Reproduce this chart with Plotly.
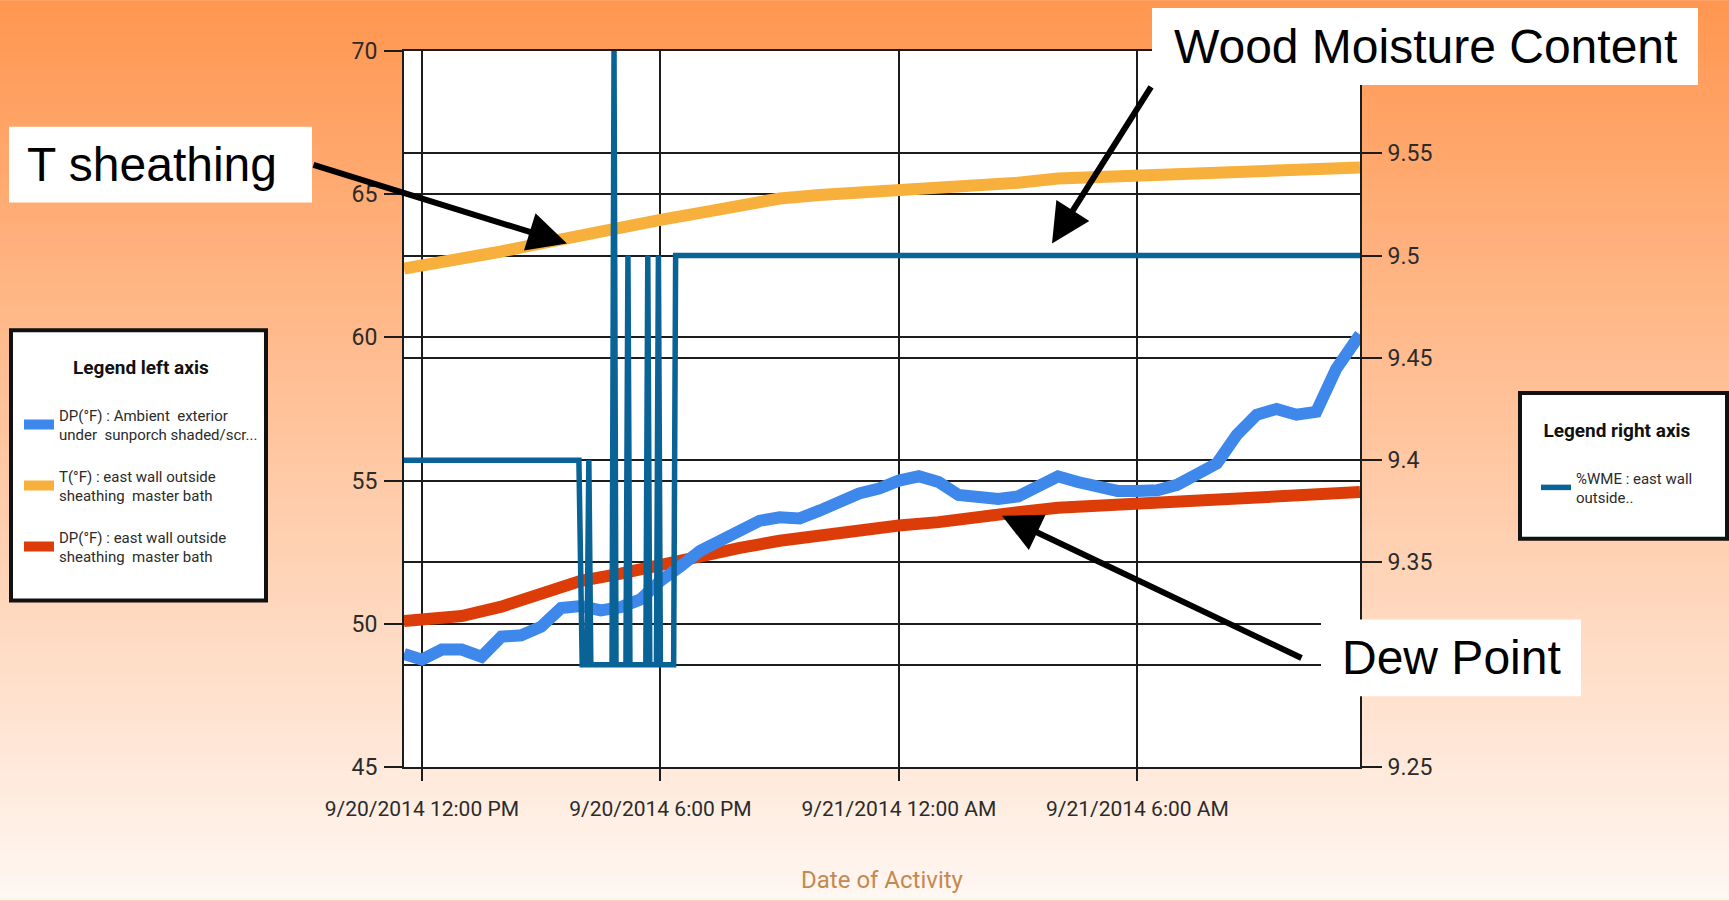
import plotly.graph_objects as go

# ---------------- data ----------------
HOURLY_TIMES = [
    "2014-09-20 11:33", "2014-09-20 12:00", "2014-09-20 13:00", "2014-09-20 14:00",
    "2014-09-20 15:00", "2014-09-20 16:00", "2014-09-20 17:00", "2014-09-20 18:00",
    "2014-09-20 19:00", "2014-09-20 20:00", "2014-09-20 21:00", "2014-09-20 22:00",
    "2014-09-20 23:00", "2014-09-21 00:00", "2014-09-21 01:00", "2014-09-21 02:00",
    "2014-09-21 03:00", "2014-09-21 04:00", "2014-09-21 05:00", "2014-09-21 06:00",
    "2014-09-21 07:00", "2014-09-21 08:00", "2014-09-21 09:00", "2014-09-21 10:00",
    "2014-09-21 11:00", "2014-09-21 11:36",
]
T_SHEATHING = [62.40, 62.50, 62.74, 63.00, 63.28, 63.58, 63.88, 64.10, 64.35, 64.60,
               64.85, 64.97, 65.05, 65.08, 65.15, 65.30, 65.40, 65.55, 65.60, 65.66,
               65.70, 65.74, 65.82, 65.87, 65.90, 65.93]
DP_SHEATHING = [50.10, 50.15, 50.27, 50.60, 51.05, 51.50, 51.75, 52.08, 52.40, 52.65,
                52.90, 53.10, 53.25, 53.43, 53.55, 53.76, 53.90, 54.05, 54.12, 54.15,
                54.22, 54.30, 54.37, 54.45, 54.53, 54.60]

HALF_HOUR_TIMES = [
    "2014-09-20 11:33",
    "2014-09-20 12:00", "2014-09-20 12:30", "2014-09-20 13:00", "2014-09-20 13:30",
    "2014-09-20 14:00", "2014-09-20 14:30", "2014-09-20 15:00", "2014-09-20 15:30",
    "2014-09-20 16:00", "2014-09-20 16:30", "2014-09-20 17:00", "2014-09-20 17:30",
    "2014-09-20 18:00", "2014-09-20 18:30", "2014-09-20 19:00", "2014-09-20 19:30",
    "2014-09-20 20:00", "2014-09-20 20:30", "2014-09-20 21:00", "2014-09-20 21:30",
    "2014-09-20 22:00", "2014-09-20 22:30", "2014-09-20 23:00", "2014-09-20 23:30",
    "2014-09-21 00:00", "2014-09-21 00:30", "2014-09-21 01:00", "2014-09-21 01:30",
    "2014-09-21 02:00", "2014-09-21 02:30", "2014-09-21 03:00", "2014-09-21 03:30",
    "2014-09-21 04:00", "2014-09-21 04:30", "2014-09-21 05:00", "2014-09-21 05:30",
    "2014-09-21 06:00", "2014-09-21 06:30", "2014-09-21 07:00", "2014-09-21 07:30",
    "2014-09-21 08:00", "2014-09-21 08:30", "2014-09-21 09:00", "2014-09-21 09:30",
    "2014-09-21 10:00", "2014-09-21 10:30", "2014-09-21 11:00", "2014-09-21 11:30",
    "2014-09-21 11:36",
]
DP_AMBIENT = [48.95,
              48.75, 49.10, 49.10, 48.85, 49.55, 49.60, 49.90, 50.55,
              50.62, 50.47, 50.58, 50.85, 51.50, 52.00, 52.55, 52.90,
              53.30, 53.60, 53.72, 53.68, 53.95, 54.30, 54.55, 54.72,
              55.00, 55.15, 54.95, 54.50, 54.38, 54.36, 54.45, 54.85,
              55.15, 54.95, 54.75, 54.64, 54.64, 54.66, 54.85, 55.17,
              55.60, 56.60, 57.30, 57.50, 57.30, 57.40, 58.90, 59.90,
              60.10]

WME_TIMES = ["2014-09-20 11:33", "2014-09-20 15:57", "2014-09-20 16:02", "2014-09-20 16:09",
             "2014-09-20 16:12", "2014-09-20 16:15", "2014-09-20 16:47", "2014-09-20 16:50",
             "2014-09-20 16:53", "2014-09-20 17:08", "2014-09-20 17:11", "2014-09-20 17:14",
             "2014-09-20 17:38", "2014-09-20 17:41", "2014-09-20 17:44", "2014-09-20 17:54",
             "2014-09-20 17:57", "2014-09-20 18:00", "2014-09-20 18:20", "2014-09-20 18:23",
             "2014-09-21 11:36"]
WME_VALUES = [9.40, 9.40, 9.30, 9.30, 9.40, 9.30, 9.30, 9.60, 9.30, 9.30, 9.50, 9.30,
              9.30, 9.50, 9.30, 9.30, 9.50, 9.30, 9.30, 9.50, 9.50]

X_RANGE = ["2014-09-20 11:33", "2014-09-21 11:36"]
X_TICKS = ["2014-09-20 12:00", "2014-09-20 18:00", "2014-09-21 00:00", "2014-09-21 06:00"]
X_TICK_TEXT = ["9/20/2014 12:00 PM", "9/20/2014 6:00 PM", "9/21/2014 12:00 AM", "9/21/2014 6:00 AM"]
Y_LEFT_TICKS = [45, 50, 55, 60, 65, 70]
Y_RIGHT_TICKS = [9.25, 9.30, 9.35, 9.40, 9.45, 9.50, 9.55]
Y_RIGHT_TEXT = ["9.25", "", "9.35", "9.4", "9.45", "9.5", "9.55"]  # 9.3 is hidden by the callout

# ---------------- layout constants ----------------
FIG_W, FIG_H = 1729, 901
ML, MR, MT, MB = 404, 369, 51, 132
PW = FIG_W - ML - MR
PH = FIG_H - MT - MB
NARROW = "Roboto, Liberation Sans, sans-serif"
ARIAL = "Liberation Sans, Arial, sans-serif"


def px(X, Y):
    return (X - ML) / PW, (FIG_H - MB - Y) / PH


fig = go.Figure()

fig.add_trace(go.Scatter(
    x=HOURLY_TIMES, y=DP_SHEATHING, mode="lines",
    name="DP(°F) : east wall outside<br>sheathing  master bath",
    line=dict(color="#DC3D08", width=12), legend="legend", legendrank=3,
    legendgroup="c"))
fig.add_trace(go.Scatter(
    x=HOURLY_TIMES, y=T_SHEATHING, mode="lines",
    name="T(°F) : east wall outside<br>sheathing  master bath",
    line=dict(color="#F8B03C", width=12), legend="legend", legendrank=2,
    legendgroup="b"))
fig.add_trace(go.Scatter(
    x=HALF_HOUR_TIMES, y=DP_AMBIENT, mode="lines",
    name="DP(°F) : Ambient  exterior<br>under  sunporch shaded/scr...",
    line=dict(color="#3E88EC", width=12), legend="legend", legendrank=1,
    legendgroup="a"))
fig.add_trace(go.Scatter(
    x=WME_TIMES, y=WME_VALUES, mode="lines", yaxis="y2",
    name="%WME : east wall<br>outside..",
    line=dict(color="#0A6396", width=5.5), legend="legend2", legendgroup="d"))

# ---------------- background gradient ----------------
shapes = []
N = 120
top_c = (255, 150, 80)
bot_c = (255, 247, 242)
for i in range(N):
    f = (i + 0.5) / N
    c = tuple(round(top_c[k] + (bot_c[k] - top_c[k]) * f) for k in range(3))
    Y0 = i * FIG_H / N
    Y1 = (i + 1) * FIG_H / N + 1.5
    x0, y0 = px(-2, Y1)
    x1, y1 = px(FIG_W + 2, Y0)
    shapes.append(dict(type="rect", xref="paper", yref="paper", x0=x0, x1=x1, y0=y0, y1=y1,
                       fillcolor="rgb(%d,%d,%d)" % c, line=dict(width=0), layer="below"))
shapes.append(dict(type="rect", xref="paper", yref="paper", x0=0, x1=1, y0=0, y1=1,
                   fillcolor="white", line=dict(width=0), layer="below"))


def rect(X0, Y0, X1, Y1, layer, border):
    a0, b1 = px(X0, Y0)
    a1, b0 = px(X1, Y1)
    return dict(type="rect", xref="paper", yref="paper", x0=a0, x1=a1, y0=b0, y1=b1,
                fillcolor="white", layer=layer,
                line=dict(color="#111111", width=border) if border else dict(width=0))


# legend boxes
shapes.append(rect(11, 331, 266, 602, "below", 4))
shapes.append(rect(1520, 394, 1727, 540, "below", 4))
# callout boxes
shapes.append(rect(9, 127, 312, 203, "above", 0))
shapes.append(rect(1152, 8, 1698, 85, "above", 0))
shapes.append(rect(1321, 621, 1581, 698, "above", 0))

# ---------------- callout texts and arrows ----------------
annotations = []
for text, X, Y, anchor in [("T sheathing", 27, 165, "left"),
                           ("Wood Moisture Content", 1425, 46, "center"),
                           ("Dew Point", 1451, 659, "center")]:
    cx, cy = px(X, Y)
    annotations.append(dict(text=text, xref="paper", yref="paper", x=cx, y=cy,
                            xanchor=anchor, yanchor="middle", showarrow=False,
                            borderpad=0, borderwidth=0,
                            font=dict(family=ARIAL, size=48, color="black")))

for (HX, HY, TX, TY) in [(567, 244, 312, 165), (1052, 244, 1152, 86), (1002, 517, 1303, 660)]:
    hx, hy = px(HX, HY)
    annotations.append(dict(text="", xref="paper", yref="paper", x=hx, y=hy,
                            ax=TX - HX, ay=TY - HY, showarrow=True, arrowhead=2,
                            arrowsize=1.3, arrowwidth=6, arrowcolor="black", standoff=0))

lx, ly = px(19, 350)
rx, ry = px(1536, 413)

grid = "#1c1c1c"
tickc = "#2b2b2b"
fig.update_layout(
    width=FIG_W, height=FIG_H,
    margin=dict(l=ML, r=MR, t=MT, b=MB, pad=0),
    paper_bgcolor="rgb(255,200,160)", plot_bgcolor="white",
    shapes=shapes, annotations=annotations,
    xaxis=dict(type="date", range=X_RANGE, tickvals=X_TICKS, ticktext=X_TICK_TEXT,
               showgrid=True, gridcolor=grid, gridwidth=1.5, zeroline=False,
               showline=True, linecolor=grid, linewidth=2, mirror=True,
               ticks="outside", ticklen=12, tickwidth=1.5, tickcolor=grid,
               tickfont=dict(family=NARROW, size=21, color=tickc),
               ticklabelstandoff=10,
               title=dict(text="Date of Activity", standoff=51,
                          font=dict(family=NARROW, size=24, color="#C5894F"))),
    yaxis=dict(range=[45, 70], tickvals=Y_LEFT_TICKS, showgrid=True, gridcolor=grid,
               gridwidth=2, zeroline=False, showline=True, linecolor=grid, linewidth=2,
               ticks="outside", ticklen=18, tickwidth=1.5, tickcolor=grid,
               tickfont=dict(family=NARROW, size=23, color=tickc), ticklabelstandoff=2),
    yaxis2=dict(range=[9.25, 9.60], overlaying="y", side="right", tickvals=Y_RIGHT_TICKS,
                ticktext=Y_RIGHT_TEXT, showgrid=True, gridcolor=grid, gridwidth=2,
                zeroline=False, showline=True, linecolor=grid, linewidth=2,
                ticks="outside", ticklen=20, tickwidth=1.5, tickcolor=grid,
                tickfont=dict(family=NARROW, size=23, color=tickc), ticklabelstandoff=1),
    legend=dict(x=lx, y=ly, xanchor="left", yanchor="top", bgcolor="rgba(0,0,0,0)",
                borderwidth=0, tracegroupgap=19, valign="middle",
                title=dict(text="<b>Legend left axis</b><br> ", side="top center",
                           font=dict(family=NARROW, size=19, color="#111111")),
                font=dict(family=NARROW, size=15, color=tickc)),
    legend2=dict(x=rx, y=ry, xanchor="left", yanchor="top", bgcolor="rgba(0,0,0,0)",
                 borderwidth=0, valign="middle",
                 title=dict(text="<b>Legend right axis</b><br> ", side="top center",
                            font=dict(family=NARROW, size=19, color="#111111")),
                 font=dict(family=NARROW, size=15, color=tickc)),
    showlegend=True,
)

fig.write_html(
    "out.html",
    config={"displayModeBar": False},
    post_script=("document.body.style.margin='0';"
                 "document.body.style.overflow='hidden';"
                 "document.documentElement.style.overflow='hidden';"))
